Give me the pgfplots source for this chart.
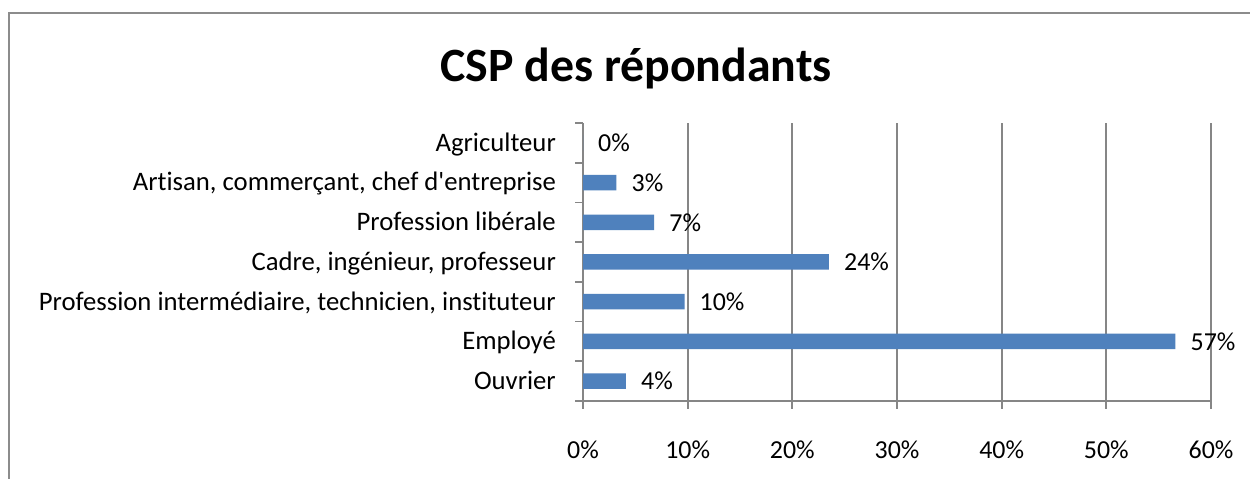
\documentclass[border=0pt]{standalone}
\usepackage{pgfplots}
\pgfplotsset{compat=1.18}
\usepackage{fontspec}
\setmainfont{Carlito}[Ligatures={TeXOff,NoCommon}]
\definecolor{barblue}{HTML}{4F81BD}
\definecolor{gridgray}{HTML}{868686}
\definecolor{framegray}{HTML}{8C8C8C}
\begin{document}
\begin{tikzpicture}[x=1bp,y=1bp]
\useasboundingbox (0,0) rectangle (1250,479);
\fill[white] (0,0) rectangle (1250,479);
\draw[framegray, line width=2.5bp] (9,0) -- (9,466) -- (1251,466);
\node[font=\fontsize{48}{54}\selectfont\bfseries, anchor=base] at (636,397) {CSP des répondants};
\begin{axis}[
  at={(583bp,78bp)}, anchor=south west,
  scale only axis, width=628bp, height=278bp,
  xmin=0, xmax=60, ymin=-0.5, ymax=6.5,
  axis x line*=bottom, axis y line*=left,
  axis line style={-, gridgray, line width=1.8bp},
  xtick={0,10,...,60},
  xticklabel={\pgfmathprintnumber{\tick}\%},
  ytick={0,...,6},
  yticklabels={Ouvrier, Employé, {Profession intermédiaire, technicien, instituteur}, {Cadre, ingénieur, professeur}, Profession libérale, {Artisan, commerçant, chef d'entreprise}, Agriculteur},
  minor ytick={-0.5,0.5,...,6.5},
  major tick length=8bp, minor tick length=8bp,
  tick align=outside,
  major y tick style={draw=none},
  tick style={gridgray, line width=1.8bp},
  minor y tick style={gridgray, line width=1.8bp},
  xmajorgrids, grid style={gridgray, line width=1.7bp},
  ticklabel style={font=\fontsize{26}{30}\selectfont, text=black},
  /pgf/number format/assume math mode=true,
  yticklabel style={anchor=base east, inner sep=0pt, xshift=-19bp, yshift=-8.3bp, font=\fontsize{26.8}{30}\selectfont},
  xticklabel style={anchor=base, inner sep=0pt, yshift=-50bp},
  xbar, bar width=15.5bp,
  clip=false,
  point meta=explicit,
  nodes near coords={\pgfmathprintnumber[fixed,precision=0]{\pgfplotspointmeta}\%},
  nodes near coords style={anchor=base west, inner sep=0pt, xshift=15bp, yshift=-8.8bp, font=\fontsize{26}{30}\selectfont, text=black, /pgf/number format/assume math mode=true},
]
\addplot[fill=barblue, draw=none] table[x=v, y=c, meta=l] {
c v l
0 4.1 4
1 56.6 57
2 9.7 10
3 23.5 24
4 6.8 7
5 3.2 3
6 0 0
};
\end{axis}
\end{tikzpicture}
\end{document}
